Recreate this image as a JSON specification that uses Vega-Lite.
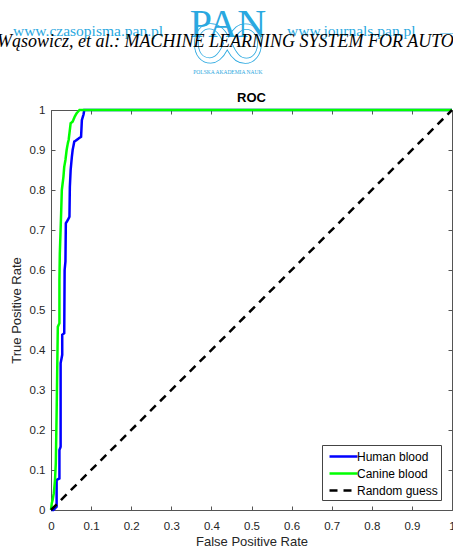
{
  "$schema": "https://vega.github.io/schema/vega-lite/v6.json",
  "width": 401,
  "height": 400,
  "autosize": {"type": "none"},
  "padding": {"left": 51, "top": 110, "right": 1, "bottom": 39},
  "background": "white",
  "config": {
    "view": {"stroke": null},
    "font": "Liberation Sans",
    "axis": {"grid": false}
  },
  "datasets": {
    "roc": [
      {"series": "Human blood", "ord": 0, "fpr": 0, "tpr": 0},
      {"series": "Human blood", "ord": 1, "fpr": 0.006, "tpr": 0},
      {"series": "Human blood", "ord": 2, "fpr": 0.014, "tpr": 0.008},
      {"series": "Human blood", "ord": 3, "fpr": 0.014, "tpr": 0.075},
      {"series": "Human blood", "ord": 4, "fpr": 0.021, "tpr": 0.079},
      {"series": "Human blood", "ord": 5, "fpr": 0.021, "tpr": 0.15},
      {"series": "Human blood", "ord": 6, "fpr": 0.024, "tpr": 0.158},
      {"series": "Human blood", "ord": 7, "fpr": 0.024, "tpr": 0.367},
      {"series": "Human blood", "ord": 8, "fpr": 0.028, "tpr": 0.388},
      {"series": "Human blood", "ord": 9, "fpr": 0.028, "tpr": 0.438},
      {"series": "Human blood", "ord": 10, "fpr": 0.033, "tpr": 0.442},
      {"series": "Human blood", "ord": 11, "fpr": 0.034, "tpr": 0.6},
      {"series": "Human blood", "ord": 12, "fpr": 0.036, "tpr": 0.621},
      {"series": "Human blood", "ord": 13, "fpr": 0.037, "tpr": 0.717},
      {"series": "Human blood", "ord": 14, "fpr": 0.042, "tpr": 0.725},
      {"series": "Human blood", "ord": 15, "fpr": 0.046, "tpr": 0.733},
      {"series": "Human blood", "ord": 16, "fpr": 0.047, "tpr": 0.808},
      {"series": "Human blood", "ord": 17, "fpr": 0.049, "tpr": 0.85},
      {"series": "Human blood", "ord": 18, "fpr": 0.052, "tpr": 0.883},
      {"series": "Human blood", "ord": 19, "fpr": 0.054, "tpr": 0.9},
      {"series": "Human blood", "ord": 20, "fpr": 0.058, "tpr": 0.921},
      {"series": "Human blood", "ord": 21, "fpr": 0.064, "tpr": 0.925},
      {"series": "Human blood", "ord": 22, "fpr": 0.069, "tpr": 0.929},
      {"series": "Human blood", "ord": 23, "fpr": 0.075, "tpr": 0.933},
      {"series": "Human blood", "ord": 24, "fpr": 0.077, "tpr": 0.975},
      {"series": "Human blood", "ord": 25, "fpr": 0.081, "tpr": 0.988},
      {"series": "Human blood", "ord": 26, "fpr": 0.083, "tpr": 1},
      {"series": "Human blood", "ord": 27, "fpr": 1, "tpr": 1},
      {"series": "Canine blood", "ord": 0, "fpr": 0, "tpr": 0},
      {"series": "Canine blood", "ord": 1, "fpr": 0.002, "tpr": 0.017},
      {"series": "Canine blood", "ord": 2, "fpr": 0.004, "tpr": 0.025},
      {"series": "Canine blood", "ord": 3, "fpr": 0.007, "tpr": 0.042},
      {"series": "Canine blood", "ord": 4, "fpr": 0.01, "tpr": 0.075},
      {"series": "Canine blood", "ord": 5, "fpr": 0.012, "tpr": 0.117},
      {"series": "Canine blood", "ord": 6, "fpr": 0.014, "tpr": 0.24},
      {"series": "Canine blood", "ord": 7, "fpr": 0.017, "tpr": 0.458},
      {"series": "Canine blood", "ord": 8, "fpr": 0.021, "tpr": 0.467},
      {"series": "Canine blood", "ord": 9, "fpr": 0.021, "tpr": 0.575},
      {"series": "Canine blood", "ord": 10, "fpr": 0.022, "tpr": 0.642},
      {"series": "Canine blood", "ord": 11, "fpr": 0.025, "tpr": 0.733},
      {"series": "Canine blood", "ord": 12, "fpr": 0.027, "tpr": 0.8},
      {"series": "Canine blood", "ord": 13, "fpr": 0.031, "tpr": 0.833},
      {"series": "Canine blood", "ord": 14, "fpr": 0.033, "tpr": 0.858},
      {"series": "Canine blood", "ord": 15, "fpr": 0.036, "tpr": 0.875},
      {"series": "Canine blood", "ord": 16, "fpr": 0.039, "tpr": 0.9},
      {"series": "Canine blood", "ord": 17, "fpr": 0.042, "tpr": 0.917},
      {"series": "Canine blood", "ord": 18, "fpr": 0.044, "tpr": 0.925},
      {"series": "Canine blood", "ord": 19, "fpr": 0.046, "tpr": 0.942},
      {"series": "Canine blood", "ord": 20, "fpr": 0.049, "tpr": 0.967},
      {"series": "Canine blood", "ord": 21, "fpr": 0.054, "tpr": 0.971},
      {"series": "Canine blood", "ord": 22, "fpr": 0.059, "tpr": 0.983},
      {"series": "Canine blood", "ord": 23, "fpr": 0.064, "tpr": 0.992},
      {"series": "Canine blood", "ord": 24, "fpr": 0.071, "tpr": 1},
      {"series": "Canine blood", "ord": 25, "fpr": 1, "tpr": 1},
      {"series": "Random guess", "ord": 0, "fpr": 0, "tpr": 0},
      {"series": "Random guess", "ord": 1, "fpr": 1, "tpr": 1}
    ]
  },
  "data": {"name": "roc"},
  "resolve": {"axis": {"x": "independent", "y": "independent"}},
  "layer": [
    {
      "transform": [{"filter": "datum.series === 'Human blood'"}],
      "mark": {"type": "line", "strokeWidth": 2.5, "clip": false},
      "encoding": {
        "x": {"field": "fpr", "type": "quantitative", "scale": {"domain": [0, 1], "nice": false},
          "axis": {"orient": "bottom", "values": [0, 0.1, 0.2, 0.3, 0.4, 0.5, 0.6, 0.7, 0.8, 0.9, 1], "format": "~g",
            "title": "False Positive Rate", "titleFontSize": 13, "titleFontWeight": "normal", "titleColor": "#262626", "titlePadding": 4,
            "labelFontSize": 11.5, "labelColor": "#262626", "labelPadding": 14, "tickSize": -4, "tickColor": "#555", "domainColor": "#555", "labelFlush": false, "labelOverlap": false}},
        "y": {"field": "tpr", "type": "quantitative", "scale": {"domain": [0, 1], "nice": false},
          "axis": {"orient": "left", "values": [0, 0.1, 0.2, 0.3, 0.4, 0.5, 0.6, 0.7, 0.8, 0.9, 1], "format": "~g",
            "title": "True Positive Rate", "titleFontSize": 13, "titleFontWeight": "normal", "titleColor": "#262626", "titlePadding": 6,
            "labelFontSize": 11.5, "labelColor": "#262626", "labelPadding": 10, "tickSize": -4, "tickColor": "#555", "domainColor": "#555", "labelFlush": false, "labelOverlap": false}},
        "order": {"field": "ord", "type": "quantitative"},
        "color": {"field": "series", "type": "nominal",
          "scale": {"domain": ["Human blood", "Canine blood", "Random guess"], "range": ["#0000ff", "#00ff00", "#000000"]},
          "legend": {"title": null, "orient": "none", "legendX": 271, "legendY": 335, "fillColor": "white", "strokeColor": "#444",
            "padding": 3, "symbolType": "M-2,0H2", "symbolSize": 196, "symbolOffset": 10, "symbolStrokeWidth": 2.5, "labelFontSize": 12, "labelColor": "black", "labelOffset": 5, "rowPadding": 2}},
        "strokeDash": {"field": "series", "type": "nominal",
          "scale": {"domain": ["Human blood", "Canine blood", "Random guess"], "range": [[1, 0], [1, 0], [8, 6]]},
          "legend": {"title": null, "orient": "none", "legendX": 271, "legendY": 335, "fillColor": "white", "strokeColor": "#444",
            "padding": 3, "symbolType": "M-2,0H2", "symbolSize": 196, "symbolOffset": 10, "symbolStrokeWidth": 2.5, "labelFontSize": 12, "labelColor": "black", "labelOffset": 5, "rowPadding": 2}}
      }
    },
    {
      "transform": [{"filter": "datum.series === 'Canine blood'"}],
      "mark": {"type": "line", "strokeWidth": 2.5, "clip": false},
      "encoding": {
        "x": {"field": "fpr", "type": "quantitative", "scale": {"domain": [0, 1], "nice": false},
          "axis": {"orient": "top", "values": [0, 0.1, 0.2, 0.3, 0.4, 0.5, 0.6, 0.7, 0.8, 0.9, 1], "labels": false, "title": null, "tickSize": -4, "tickColor": "#555", "domainColor": "#555"}},
        "y": {"field": "tpr", "type": "quantitative", "scale": {"domain": [0, 1], "nice": false},
          "axis": {"orient": "right", "values": [0, 0.1, 0.2, 0.3, 0.4, 0.5, 0.6, 0.7, 0.8, 0.9, 1], "labels": false, "title": null, "tickSize": -4, "tickColor": "#555", "domainColor": "#555"}},
        "order": {"field": "ord", "type": "quantitative"},
        "color": {"field": "series", "type": "nominal"},
        "strokeDash": {"field": "series", "type": "nominal"}
      }
    },
    {
      "transform": [{"filter": "datum.series === 'Random guess'"}],
      "mark": {"type": "line", "strokeWidth": 2.5, "clip": false},
      "encoding": {
        "x": {"field": "fpr", "type": "quantitative", "scale": {"domain": [0, 1], "nice": false}, "axis": null},
        "y": {"field": "tpr", "type": "quantitative", "scale": {"domain": [0, 1], "nice": false}, "axis": null},
        "order": {"field": "ord", "type": "quantitative"},
        "color": {"field": "series", "type": "nominal"},
        "strokeDash": {"field": "series", "type": "nominal"}
      }
    },
    {
      "data": {"values": [{}]},
      "mark": {"type": "text", "text": "ROC", "font": "Liberation Sans", "fontSize": 13, "fontWeight": "bold", "color": "black", "align": "center", "baseline": "alphabetic"},
      "encoding": {
        "x": {"datum": 0.5, "type": "quantitative", "scale": {"domain": [0, 1], "nice": false}, "axis": null},
        "y": {"datum": 1.02, "type": "quantitative", "scale": {"domain": [0, 1], "nice": false}, "axis": null}
      }
    },
    {
      "data": {"values": [{}]},
      "mark": {"type": "text", "text": "∞", "font": "Liberation Serif", "fontSize": 105, "fill": "transparent", "stroke": "#2aa8e0", "strokeWidth": 0.8, "align": "center", "baseline": "alphabetic"},
      "encoding": {
        "x": {"datum": 0.441, "type": "quantitative", "scale": {"domain": [0, 1], "nice": false}, "axis": null},
        "y": {"datum": 1.09, "type": "quantitative", "scale": {"domain": [0, 1], "nice": false}, "axis": null}
      }
    },
    {
      "data": {"values": [{}]},
      "mark": {"type": "text", "text": "PAN", "font": "Liberation Serif", "fontSize": 40, "color": "#2aa8e0", "align": "center", "baseline": "alphabetic"},
      "encoding": {
        "x": {"datum": 0.441, "type": "quantitative", "scale": {"domain": [0, 1], "nice": false}, "axis": null},
        "y": {"datum": 1.1825, "type": "quantitative", "scale": {"domain": [0, 1], "nice": false}, "axis": null}
      }
    },
    {
      "data": {"values": [{}]},
      "mark": {"type": "text", "text": "POLSKA AKADEMIA NAUK", "font": "Liberation Serif", "fontSize": 5.5, "color": "#2aa8e0", "align": "center", "baseline": "alphabetic"},
      "encoding": {
        "x": {"datum": 0.441, "type": "quantitative", "scale": {"domain": [0, 1], "nice": false}, "axis": null},
        "y": {"datum": 1.09, "type": "quantitative", "scale": {"domain": [0, 1], "nice": false}, "axis": null}
      }
    },
    {
      "data": {"values": [{}]},
      "mark": {"type": "text", "text": "www.czasopisma.pan.pl", "font": "Liberation Serif", "fontSize": 15.5, "color": "#2aa8e0", "align": "left", "baseline": "alphabetic"},
      "encoding": {
        "x": {"datum": -0.0948, "type": "quantitative", "scale": {"domain": [0, 1], "nice": false}, "axis": null},
        "y": {"datum": 1.185, "type": "quantitative", "scale": {"domain": [0, 1], "nice": false}, "axis": null}
      }
    },
    {
      "data": {"values": [{}]},
      "mark": {"type": "text", "text": "www.journals.pan.pl", "font": "Liberation Serif", "fontSize": 15.5, "color": "#2aa8e0", "align": "left", "baseline": "alphabetic"},
      "encoding": {
        "x": {"datum": 0.5885, "type": "quantitative", "scale": {"domain": [0, 1], "nice": false}, "axis": null},
        "y": {"datum": 1.185, "type": "quantitative", "scale": {"domain": [0, 1], "nice": false}, "axis": null}
      }
    },
    {
      "data": {"values": [{}]},
      "mark": {"type": "text", "text": "—", "font": "Liberation Serif", "fontSize": 15, "color": "#2aa8e0", "align": "left", "baseline": "alphabetic"},
      "encoding": {
        "x": {"datum": 0.97, "type": "quantitative", "scale": {"domain": [0, 1], "nice": false}, "axis": null},
        "y": {"datum": 1.1825, "type": "quantitative", "scale": {"domain": [0, 1], "nice": false}, "axis": null}
      }
    },
    {
      "data": {"values": [{}]},
      "mark": {"type": "text", "text": "Wąsowicz, et al.:  MACHINE LEARNING SYSTEM FOR AUTOMATIC", "font": "Liberation Serif", "fontSize": 18, "fontStyle": "italic", "color": "black", "align": "left", "baseline": "alphabetic"},
      "encoding": {
        "x": {"datum": -0.1347, "type": "quantitative", "scale": {"domain": [0, 1], "nice": false}, "axis": null},
        "y": {"datum": 1.1575, "type": "quantitative", "scale": {"domain": [0, 1], "nice": false}, "axis": null}
      }
    }
  ]
}
